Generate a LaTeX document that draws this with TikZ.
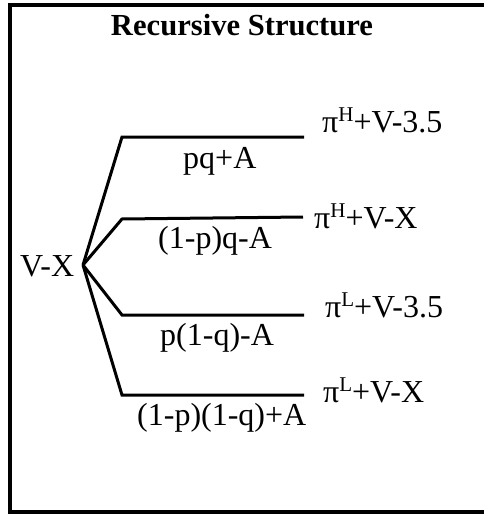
\documentclass[tikz,border=0pt]{standalone}
\usepackage{fontspec}
\setmainfont{Liberation Serif}
\newcommand{\supx}[1]{\raisebox{10.5pt}{\fontsize{21}{21}\selectfont #1}}
\tikzset{
  lbl/.style={inner sep=0pt, anchor=base west, font=\fontsize{32}{38}\selectfont},
  branch/.style={line width=3pt, line join=miter},
  frame/.style={line width=4pt}
}
\begin{document}
\begin{tikzpicture}[x=1pt, y=-1pt]
\useasboundingbox (0,0) rectangle (484,514);
\draw[frame] (490,4.5) -- (10,4.5) -- (10,512) -- (490,512);
\node[inner sep=0pt, anchor=base, font=\fontsize{30.6}{36}\selectfont\bfseries] (title) at (242,35) {Recursive Structure};
\node[lbl] (vx) at (20,276) {V-X};
\coordinate (root) at (83,265);
\coordinate (b1) at (122,137); \coordinate (e1) at (304,137);
\coordinate (b2) at (122,219); \coordinate (e2) at (303,217);
\coordinate (b3) at (122,315); \coordinate (e3) at (304,315);
\coordinate (b4) at (122,395); \coordinate (e4) at (304,395);
\draw[branch] (root) -- (b1) -- (e1);
\draw[branch] (root) -- (b2) -- (e2);
\draw[branch] (root) -- (b3) -- (e3);
\draw[branch] (root) -- (b4) -- (e4);
\node[lbl] (p1) at (183,168) {pq+A};
\node[lbl] (p2) at (158,248) {(1-p)q-A};
\node[lbl] (p3) at (160,345) {p(1-q)-A};
\node[lbl] (p4) at (137,425) {(1-p)(1-q)+A};
\node[lbl] (o1) at (322,132) {π\supx{H}+V-3.5};
\node[lbl] (o2) at (314,228) {π\supx{H}+V-X};
\node[lbl] (o3) at (325,317) {π\supx{L}+V-3.5};
\node[lbl] (o4) at (323,402) {π\supx{L}+V-X};
\end{tikzpicture}
\end{document}
